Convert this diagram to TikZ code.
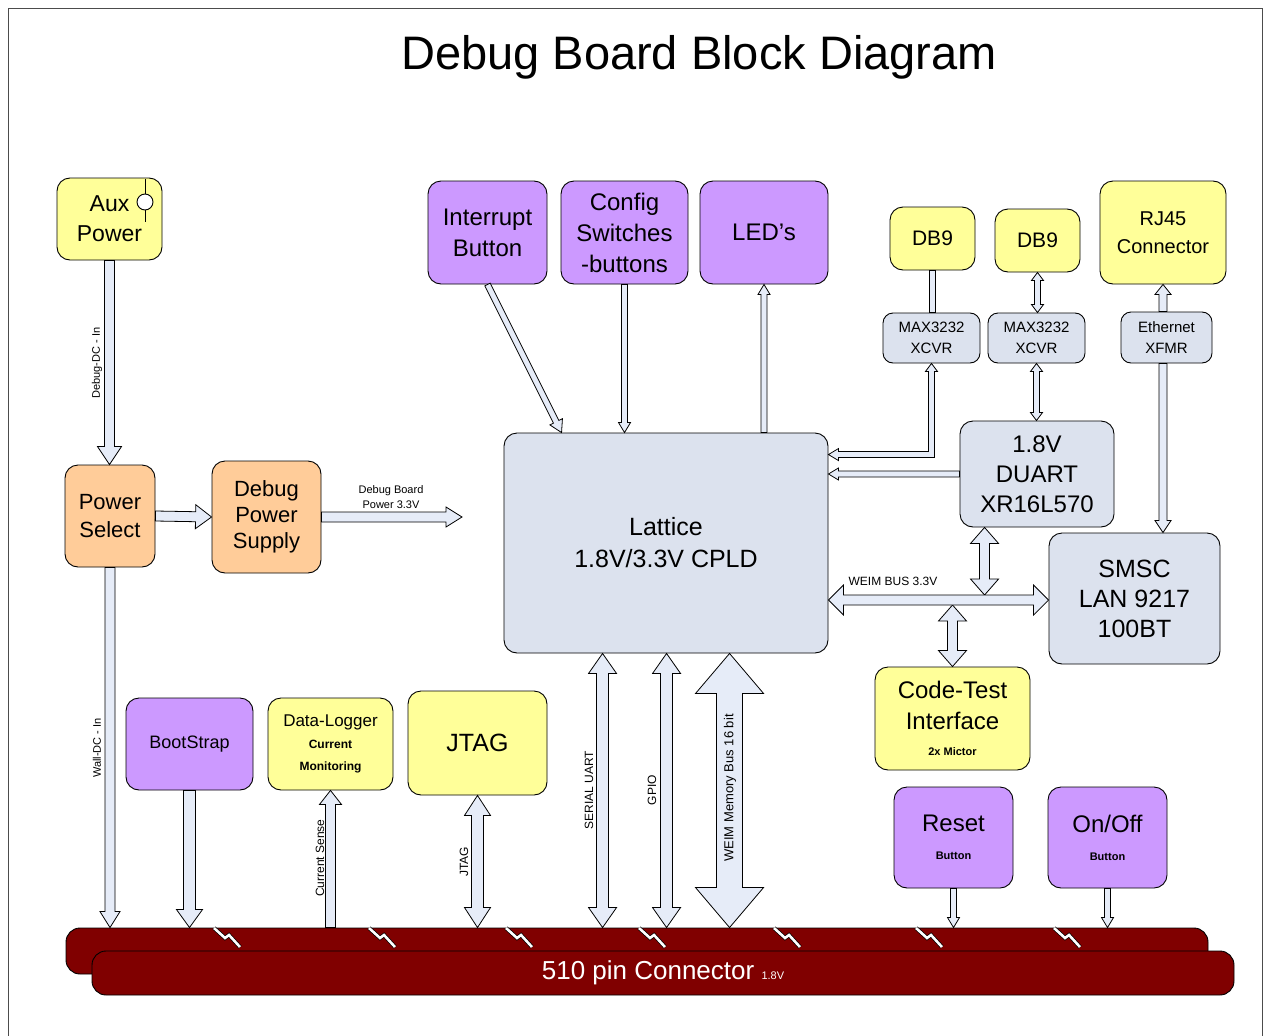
\documentclass[tikz,border=0pt]{standalone}
\usepackage{fontspec}
\setmainfont{Liberation Sans}
\usetikzlibrary{calc}
\definecolor{yel}{HTML}{FFFF99}
\definecolor{pur}{HTML}{CC99FF}
\definecolor{ora}{HTML}{FFCC99}
\definecolor{gry}{HTML}{DCE2EE}
\definecolor{arr}{HTML}{E6ECF8}
\definecolor{barred}{HTML}{800000}
\newcommand\myfs[2]{\fontsize{#1}{#2}\selectfont}
% single-headed fat arrow: from #1 to #2, half shaft #3, half head #4, head length #5
\newcommand\sarrow[5]{\filldraw[fat] let \p1=($(#2)-(#1)$), \n1={atan2(\y1,\x1)}, \n2={veclen(\x1,\y1)}, \n3={\n2-#5} in
 ($(#1)+({\n1+90}:#3pt)$) -- ($(#1)+(\n1:\n3)+({\n1+90}:#3pt)$) -- ($(#1)+(\n1:\n3)+({\n1+90}:#4pt)$) -- (#2) -- ($(#1)+(\n1:\n3)+({\n1-90}:#4pt)$) -- ($(#1)+(\n1:\n3)+({\n1-90}:#3pt)$) -- ($(#1)+({\n1-90}:#3pt)$) -- cycle;}
% double-headed fat arrow
\newcommand\darrow[5]{\filldraw[fat] let \p1=($(#2)-(#1)$), \n1={atan2(\y1,\x1)}, \n2={veclen(\x1,\y1)}, \n3={\n2-#5} in
 (#1) -- ($(#1)+(\n1:#5pt)+({\n1+90}:#4pt)$) -- ($(#1)+(\n1:#5pt)+({\n1+90}:#3pt)$) -- ($(#1)+(\n1:\n3)+({\n1+90}:#3pt)$) -- ($(#1)+(\n1:\n3)+({\n1+90}:#4pt)$) -- (#2) -- ($(#1)+(\n1:\n3)+({\n1-90}:#4pt)$) -- ($(#1)+(\n1:\n3)+({\n1-90}:#3pt)$) -- ($(#1)+(\n1:#5pt)+({\n1-90}:#3pt)$) -- ($(#1)+(\n1:#5pt)+({\n1-90}:#4pt)$) -- cycle;}
% plain double line (no heads)
\newcommand\parrow[3]{\filldraw[fat] let \p1=($(#2)-(#1)$), \n1={atan2(\y1,\x1)} in
 ($(#1)+({\n1+90}:#3pt)$) -- ($(#2)+({\n1+90}:#3pt)$) -- ($(#2)+({\n1-90}:#3pt)$) -- ($(#1)+({\n1-90}:#3pt)$) -- cycle;}
\begin{document}
\begin{tikzpicture}[x=1pt,y=-1pt,
  box/.style={draw=black, line width=0.9pt, rounded corners=13pt, align=center, inner sep=0pt},
  ybox/.style={box, fill=yel},
  pbox/.style={box, fill=pur},
  obox/.style={box, fill=ora},
  gbox/.style={box, fill=gry},
  fat/.style={draw=black, line width=0.8pt, fill=arr, line join=miter},
  lbl/.style={inner sep=0pt, font=\myfs{11}{13}},
  sq/.style={draw=black, line width=0.7pt, double=white, double distance=2.6pt, line join=miter},
  bar/.style={draw=black, line width=0.9pt, fill=barred, rounded corners=14pt, inner sep=0pt}]
\useasboundingbox (0,0) rectangle (1264,1036);
\draw[line width=1pt, black!70] (8,1036) -- (8,8) -- (1262,8) -- (1262,1036);

\node[inner sep=0pt, font=\myfs{47}{56}] (title) at (699,57) {Debug Board Block Diagram};

% boxes
\node[ybox, minimum width=105, minimum height=82, font=\myfs{23}{30}] (aux) at (109.5,219) {Aux\\Power};
\node[obox, minimum width=90, minimum height=102, font=\myfs{22}{28}] (psel) at (110,516) {Power\\Select};
\node[obox, minimum width=109, minimum height=112, font=\myfs{22}{26}] (dps) at (266.5,517) {Debug\\Power\\Supply};
\node[pbox, minimum width=119, minimum height=103, font=\myfs{24}{31}] (intr) at (487.5,232.5) {Interrupt\\Button};
\node[pbox, minimum width=127, minimum height=103, font=\myfs{24}{31}] (cfg) at (624.5,232.5) {Config\\Switches\\-buttons};
\node[pbox, minimum width=128, minimum height=103, font=\myfs{24}{31}] (led) at (764,232.5) {LED's};
\node[ybox, minimum width=85, minimum height=63, font=\myfs{21}{26}] (db9a) at (932.5,238.5) {DB9};
\node[ybox, minimum width=85, minimum height=63, font=\myfs{21}{26}] (db9b) at (1037.5,240.5) {DB9};
\node[ybox, minimum width=126, minimum height=103, font=\myfs{20}{28}] (rj45) at (1163,232.5) {RJ45\\Connector};
\node[gbox, rounded corners=10pt, minimum width=97, minimum height=50, font=\myfs{15}{21}] (max1) at (931.5,338) {MAX3232\\XCVR};
\node[gbox, rounded corners=10pt, minimum width=97, minimum height=50, font=\myfs{15}{21}] (max2) at (1036.5,338) {MAX3232\\XCVR};
\node[gbox, rounded corners=10pt, minimum width=91, minimum height=51, font=\myfs{15}{21}] (xfmr) at (1166.5,337.5) {Ethernet\\XFMR};
\node[gbox, minimum width=324, minimum height=220, font=\myfs{25}{32}] (cpld) at (666,543) {Lattice\\1.8V/3.3V CPLD};
\node[gbox, minimum width=154, minimum height=106, font=\myfs{24}{30}] (duart) at (1037,474) {1.8V\\DUART\\XR16L570};
\node[gbox, minimum width=171, minimum height=131, font=\myfs{25}{30}] (smsc) at (1134.5,598.5) {SMSC\\LAN 9217\\100BT};
\node[ybox, minimum width=155, minimum height=103, font=\myfs{24}{31}] (ctest) at (952.5,718.5) {Code-Test\\Interface\\[-5pt]{\myfs{11}{13}\bfseries 2x Mictor}};
\node[pbox, minimum width=127, minimum height=92, font=\myfs{18}{24}] (boot) at (189.5,744) {BootStrap};
\node[ybox, minimum width=125, minimum height=92, font=\myfs{17}{22}] (dlog) at (330.5,744) {Data-Logger\\{\myfs{12}{18}\bfseries Current}\\{\myfs{12}{16}\bfseries Monitoring}};
\node[ybox, minimum width=139, minimum height=104, font=\myfs{25}{30}] (jtag) at (477.5,743) {JTAG};
\node[pbox, minimum width=119, minimum height=101, font=\myfs{24}{28}] (reset) at (953.5,837.5) {Reset\\{\myfs{11}{16}\bfseries Button}};
\node[pbox, minimum width=119, minimum height=101, font=\myfs{24}{28}] (onoff) at (1107.5,837.5) {On/Off\\{\myfs{11}{16}\bfseries Button}};

% aux power jack symbol
\draw[line width=0.9pt] (145,179) -- (145,222);
\filldraw[draw=black, fill=white, line width=0.9pt] (145,202) circle (8);

% connector bars
\node[bar, minimum width=1142, minimum height=46] (barB) at (637,951) {};
\node[bar, minimum width=1142, minimum height=44, text=white, font=\myfs{26}{28}] (barF) at (663,973) {510 pin Connector {\myfs{11}{13}1.8V}};
\foreach \xx in {228,383,520,653,788,930,1068}
  \draw[sq] (\xx-14,928) -- (\xx-3,938) -- (\xx+1,935) -- (\xx+12,947);

% named free ends
\coordinate (pwrout) at (462,517);
\coordinate (intrend) at ($(cpld.north west)+(58,0)$);
\coordinate (busL) at (cpld.east |- 0,600);
\coordinate (busR) at (smsc.west |- 0,600);
\coordinate (dbA) at ($(duart.south west)+(25,0)$);
\coordinate (dbB) at (dbA |- 0,595);
\coordinate (ctA) at (ctest.north |- 0,605);
\coordinate (serT) at ($(cpld.south west)+(99,0)$);
\coordinate (gpiT) at ($(cpld.south west)+(163,0)$);
\coordinate (weiT) at ($(cpld.south west)+(226,0)$);

% connectors
\sarrow{aux.south}{aux.south |- psel.north}{5}{12}{18}
\sarrow{psel.south}{psel.south |- barB.north}{5}{10}{16}
\sarrow{psel.east}{dps.west}{5}{12}{16}
\sarrow{dps.east}{pwrout}{5}{10}{16}
\sarrow{boot.south}{boot.south |- barB.north}{6}{13}{18}
\sarrow{dlog.south |- barB.north}{dlog.south}{5}{11}{14}
\darrow{jtag.south}{jtag.south |- barB.north}{6}{13}{20}
\sarrow{intr.south}{intrend}{3}{7}{12}
\sarrow{cfg.south}{cfg.south |- cpld.north}{3}{6}{10}
\sarrow{led.south |- cpld.north}{led.south}{3}{6}{10}
\parrow{db9a.south}{db9a.south |- max1.north}{3}
\darrow{db9b.south}{db9b.south |- max2.north}{3}{6}{8}
\filldraw[fat] let \p1=(max1.south), \p2=($(cpld.north east)+(0,22)$) in
 (\x1,\y1) -- ({\x1+6pt},{\y1-8pt}) -- ({\x1+3pt},{\y1-8pt}) -- ({\x1+3pt},{\y2-3pt}) -- ({\x2+10pt},{\y2-3pt}) -- ({\x2+10pt},{\y2-6pt}) -- (\x2,\y2) -- ({\x2+10pt},{\y2+6pt}) -- ({\x2+10pt},{\y2+3pt}) -- ({\x1-3pt},{\y2+3pt}) -- ({\x1-3pt},{\y1-8pt}) -- ({\x1-6pt},{\y1-8pt}) -- cycle;
\darrow{max2.south}{max2.south |- duart.north}{3}{6}{8}
\sarrow{duart.west}{cpld.east |- duart.west}{3}{6}{10}
\sarrow{rj45.south |- xfmr.north}{rj45.south}{4}{8}{10}
\sarrow{rj45.south |- xfmr.south}{rj45.south |- smsc.north}{4}{8}{12}
\darrow{dbA}{dbB}{5}{14}{16}
\darrow{ctA}{ctest.north}{5}{14}{16}
\darrow{busL}{busR}{5}{15}{15}
\darrow{serT}{serT |- barB.north}{6}{14}{20}
\darrow{gpiT}{gpiT |- barB.north}{6}{14}{20}
\darrow{weiT}{weiT |- barB.north}{13}{34}{40}
\sarrow{reset.south}{reset.south |- barB.north}{3}{6}{10}
\sarrow{onoff.south}{onoff.south |- barB.north}{3}{6}{10}

% connector labels
\node[lbl, rotate=90] (l1) at (97,363) {Debug-DC - In};
\node[lbl, rotate=90] (l2) at (97,748) {Wall-DC - In};
\node[lbl, align=center, font=\myfs{11}{15}] (l3) at (391,497) {Debug Board\\Power 3.3V};
\node[lbl, rotate=90, font=\myfs{12}{14}] (l4) at (320,858) {Current Sense};
\node[lbl, rotate=90, font=\myfs{12}{14}] (l5) at (464,862) {JTAG};
\node[lbl, rotate=90, font=\myfs{12}{14}] (l6) at (589,790) {SERIAL UART};
\node[lbl, rotate=90, font=\myfs{12}{14}] (l7) at (652,790) {GPIO};
\node[lbl, rotate=90, font=\myfs{13}{15}] (l8) at (730,788) {WEIM Memory Bus 16 bit};
\node[lbl, font=\myfs{12}{14}] (l9) at (893,581) {WEIM BUS 3.3V};
\end{tikzpicture}
\end{document}
